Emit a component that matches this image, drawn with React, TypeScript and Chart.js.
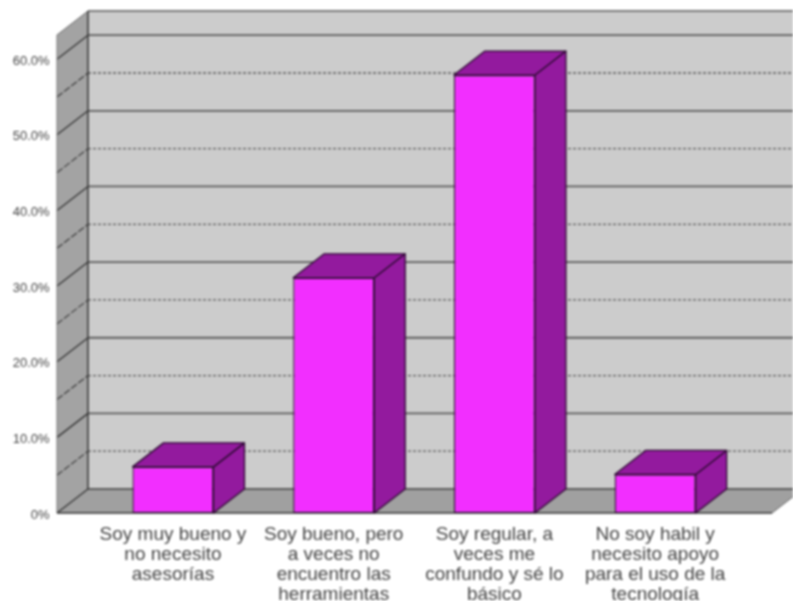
import React, { useEffect, useRef } from "react";
import { Chart, registerables } from "chart.js";

Chart.register(...registerables);

const categories = [
  ["Soy muy bueno y", "no necesito", "asesorías"],
  ["Soy bueno, pero", "a veces no", "encuentro las", "herramientas"],
  ["Soy regular, a", "veces me", "confundo y sé lo", "básico"],
  ["No soy habil y", "necesito apoyo", "para el uso de la", "tecnología"],
];
const values = [6.1, 31.1, 57.9, 5.1];
const majorTicks = [0, 10, 20, 30, 40, 50, 60];
const minorTicks = [5, 15, 25, 35, 45, 55];
const tickLabels = ["0%", "10.0%", "20.0%", "30.0%", "40.0%", "50.0%", "60.0%"];
const axisMax = 63.2;

const DX = 31;
const DY = 24;
const FRONT = "#f22eff";
const SHADE = "#931a9e";
const EDGE = "#2e0a33";

const box3d = {
  id: "box3d",
  beforeDatasetsDraw(chart: any) {
    const { ctx, chartArea: a, scales } = chart;
    const L = a.left - 35.6;
    const R = a.right + 36.5;
    const T = a.top;
    const B = a.bottom;
    const poly = (pts: number[][], fill: string) => {
      ctx.beginPath();
      pts.forEach((p, i) => (i ? ctx.lineTo(p[0], p[1]) : ctx.moveTo(p[0], p[1])));
      ctx.closePath();
      ctx.fillStyle = fill;
      ctx.fill();
    };
    const line = (x0: number, y0: number, x1: number, y1: number, c: string, w: number, dash: number[] = []) => {
      ctx.beginPath();
      ctx.setLineDash(dash);
      ctx.moveTo(x0, y0);
      ctx.lineTo(x1, y1);
      ctx.strokeStyle = c;
      ctx.lineWidth = w;
      ctx.stroke();
      ctx.setLineDash([]);
    };
    ctx.save();
    poly([[L + DX, T - DY], [R + DX, T - DY], [R + DX, B - DY], [L + DX, B - DY]], "#cccccc");
    poly([[L, T], [L + DX, T - DY], [L + DX, B - DY], [L, B]], "#a3a3a3");
    poly([[L, B], [L + DX, B - DY], [R + DX, B - DY], [R, B]], "#a0a0a0");

    minorTicks.forEach((v) => {
      const y = scales.y.getPixelForValue(v);
      line(L, y, L + DX, y - DY, "#3a3a3a", 1.2, [7, 2]);
      line(L + DX, y - DY, R + DX, y - DY, "#5a5a5a", 1.3, [3, 2]);
    });
    majorTicks.forEach((v) => {
      const y = scales.y.getPixelForValue(v);
      line(L, y, L + DX, y - DY, "#333", 1.3);
      line(L + DX, y - DY, R + DX, y - DY, "#5c5c5c", 1.8);
    });
    line(L + DX, T - DY, R + DX, T - DY, "#7a7a7a", 2);
    line(L, T, L + DX, T - DY, "#666", 1);
    line(L, T, L, B, "#777", 1);
    line(L + DX, T - DY, L + DX, B - DY, "#333", 1.5);
    line(L, B, R, B, "#333", 1.5);
    line(R, B, R + DX, B - DY, "#666", 1);
    ctx.restore();
  },
  afterDatasetsDraw(chart: any) {
    const { ctx } = chart;
    ctx.save();
    chart.getDatasetMeta(0).data.forEach((bar: any) => {
      const x0 = bar.x - bar.width / 2;
      const x1 = bar.x + bar.width / 2;
      const top = bar.y;
      const base = bar.base;
      ctx.strokeStyle = EDGE;
      ctx.lineWidth = 1.3;
      ctx.lineJoin = "round";
      ctx.fillStyle = SHADE;
      ctx.beginPath();
      ctx.moveTo(x1, top);
      ctx.lineTo(x1 + DX, top - DY);
      ctx.lineTo(x1 + DX, base - DY);
      ctx.lineTo(x1, base);
      ctx.closePath();
      ctx.fill();
      ctx.stroke();
      ctx.beginPath();
      ctx.moveTo(x0, top);
      ctx.lineTo(x0 + DX, top - DY);
      ctx.lineTo(x1 + DX, top - DY);
      ctx.lineTo(x1, top);
      ctx.closePath();
      ctx.fill();
      ctx.stroke();
    });
    ctx.restore();
  },
};

export default function App() {
  const ref = useRef<HTMLCanvasElement>(null);
  useEffect(() => {
    const chart = new Chart(ref.current as HTMLCanvasElement, {
      type: "bar",
      data: {
        labels: categories as any,
        datasets: [
          {
            data: values,
            backgroundColor: FRONT,
            borderColor: EDGE,
            borderWidth: 1.3,
            borderSkipped: false,
            barPercentage: 0.504,
            categoryPercentage: 1,
          },
        ],
      },
      options: {
        animation: false,
        responsive: false,
        devicePixelRatio: 1,
        layout: { padding: { top: 35, right: 57.5, left: 0, bottom: 0 } },
        plugins: { legend: { display: false }, tooltip: { enabled: false } },
        scales: {
          x: {
            grid: { display: false },
            border: { display: false },
            afterFit: (s: any) => {
              s.height = 88;
              s.paddingLeft = 0;
              s.paddingRight = 0;
            },
            ticks: {
              autoSkip: false,
              maxRotation: 0,
              minRotation: 0,
              padding: 3.5,
              color: "#444444",
              font: { family: "Liberation Sans", size: 19, lineHeight: 1.05 },
            },
          },
          y: {
            min: 0,
            max: axisMax,
            grid: { display: false, drawTicks: false },
            border: { display: false },
            afterBuildTicks: (s: any) => {
              s.ticks = majorTicks.map((value) => ({ value }));
            },
            afterFit: (s: any) => {
              s.width = 92.6;
              s.paddingTop = 0;
              s.paddingBottom = 0;
            },
            ticks: {
              padding: 43,
              labelOffset: 2,
              color: "#444444",
              font: { family: "Liberation Sans", size: 13 },
              callback: (v: any) => tickLabels[majorTicks.indexOf(Number(v))],
            },
          },
        },
      },
      plugins: [box3d],
    } as any);
    return () => chart.destroy();
  }, []);
  return (
    <div style={{ position: "absolute", left: 0, top: 0, width: 793, height: 601, overflow: "hidden" }}>
      <canvas ref={ref} width={793} height={601} style={{ display: "block", filter: "blur(0.8px)" }} />
    </div>
  );
}
